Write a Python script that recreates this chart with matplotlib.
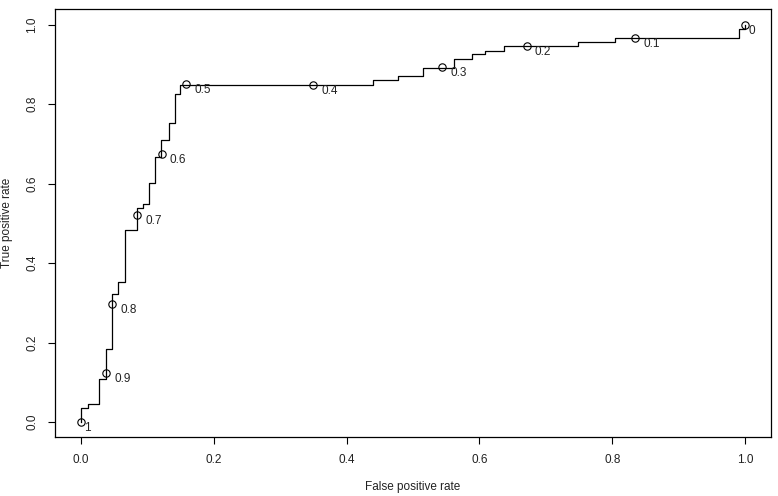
import matplotlib
matplotlib.use("Agg")
import matplotlib.pyplot as plt

plt.rcParams.update({
    "font.family": ["Liberation Sans", "DejaVu Sans"],
    "font.size": 8.5,
    "axes.linewidth": 0.9,
    "xtick.major.size": 5,
    "ytick.major.size": 5,
    "xtick.major.width": 0.8,
    "ytick.major.width": 0.8,
})

# ROC step curve: position of each vertical segment and tpr at its top
fpr = [0, 0, 0.011, 0.0276, 0.0377, 0.0472, 0.0562, 0.0663, 0.0849, 0.0939,
       0.103, 0.1116, 0.121, 0.132, 0.141, 0.149, 0.440, 0.477, 0.515, 0.561,
       0.589, 0.608, 0.637, 0.749, 0.804, 0.991, 1.0]
tpr = [0, 0.034, 0.045, 0.108, 0.183, 0.323, 0.353, 0.483, 0.539, 0.549,
       0.601, 0.666, 0.709, 0.754, 0.827, 0.849, 0.860, 0.871, 0.892, 0.913,
       0.926, 0.935, 0.947, 0.957, 0.968, 0.989, 1.0]

# cutoff markers
cut_labels = ["1", "0.9", "0.8", "0.7", "0.6", "0.5", "0.4", "0.3", "0.2", "0.1", "0"]
cut_fpr = [0, 0.0377, 0.0466, 0.0844, 0.1217, 0.158, 0.350, 0.544, 0.671, 0.834, 1.0]
cut_tpr = [0, 0.123, 0.296, 0.520, 0.674, 0.850, 0.849, 0.893, 0.947, 0.968, 1.0]

xticks = [0.0, 0.2, 0.4, 0.6, 0.8, 1.0]
yticks = [0.0, 0.2, 0.4, 0.6, 0.8, 1.0]

fig = plt.figure(figsize=(7.78, 4.96), dpi=100)
ax = fig.add_axes([55 / 778, 1 - 437 / 496, 716 / 778, 428 / 496])

# vertical up to tpr[i] at fpr[i], then flat to the next fpr
ax.plot(fpr, tpr, drawstyle="steps-post", color="black", lw=0.9)
ax.plot(cut_fpr, cut_tpr, "o", mfc="none", mec="black", ms=5.3, mew=0.8)

texts = []
for lab, x, y in zip(cut_labels, cut_fpr, cut_tpr):
    t = ax.annotate(lab, (x, y), xytext=(0, -9), textcoords="offset pixels",
                    ha="left", va="baseline", fontsize=8.5, color="#222222")
    texts.append(t)

ax.set_xlim(-0.039, 1.039)
ax.set_ylim(-0.038, 1.04)
ax.set_xticks(xticks)
ax.set_yticks(yticks)
ax.set_xticklabels([f"{v:.1f}" for v in xticks])
ax.set_yticklabels([f"{v:.1f}" for v in yticks], rotation=90, va="center")
ax.tick_params(axis="x", pad=7, colors="black", labelcolor="#222222")
ax.tick_params(axis="y", pad=7, colors="black", labelcolor="#222222")

fig.text(413 / 778, 1 - 487 / 496, "False positive rate", ha="center", va="center",
         fontsize=8.5, color="#222222")
fig.text(7 / 778, 1 - 223 / 496, "True positive rate", ha="center", va="center",
         rotation=90, fontsize=8.5, color="#222222")

# shift each cutoff label right by half its width (like R's adj = -0.5)
fig.canvas.draw()
renderer = fig.canvas.get_renderer()
for t in texts:
    w = t.get_window_extent(renderer).width
    t.xyann = (w * 0.5, -9)

fig.savefig("out.png", dpi=100)
